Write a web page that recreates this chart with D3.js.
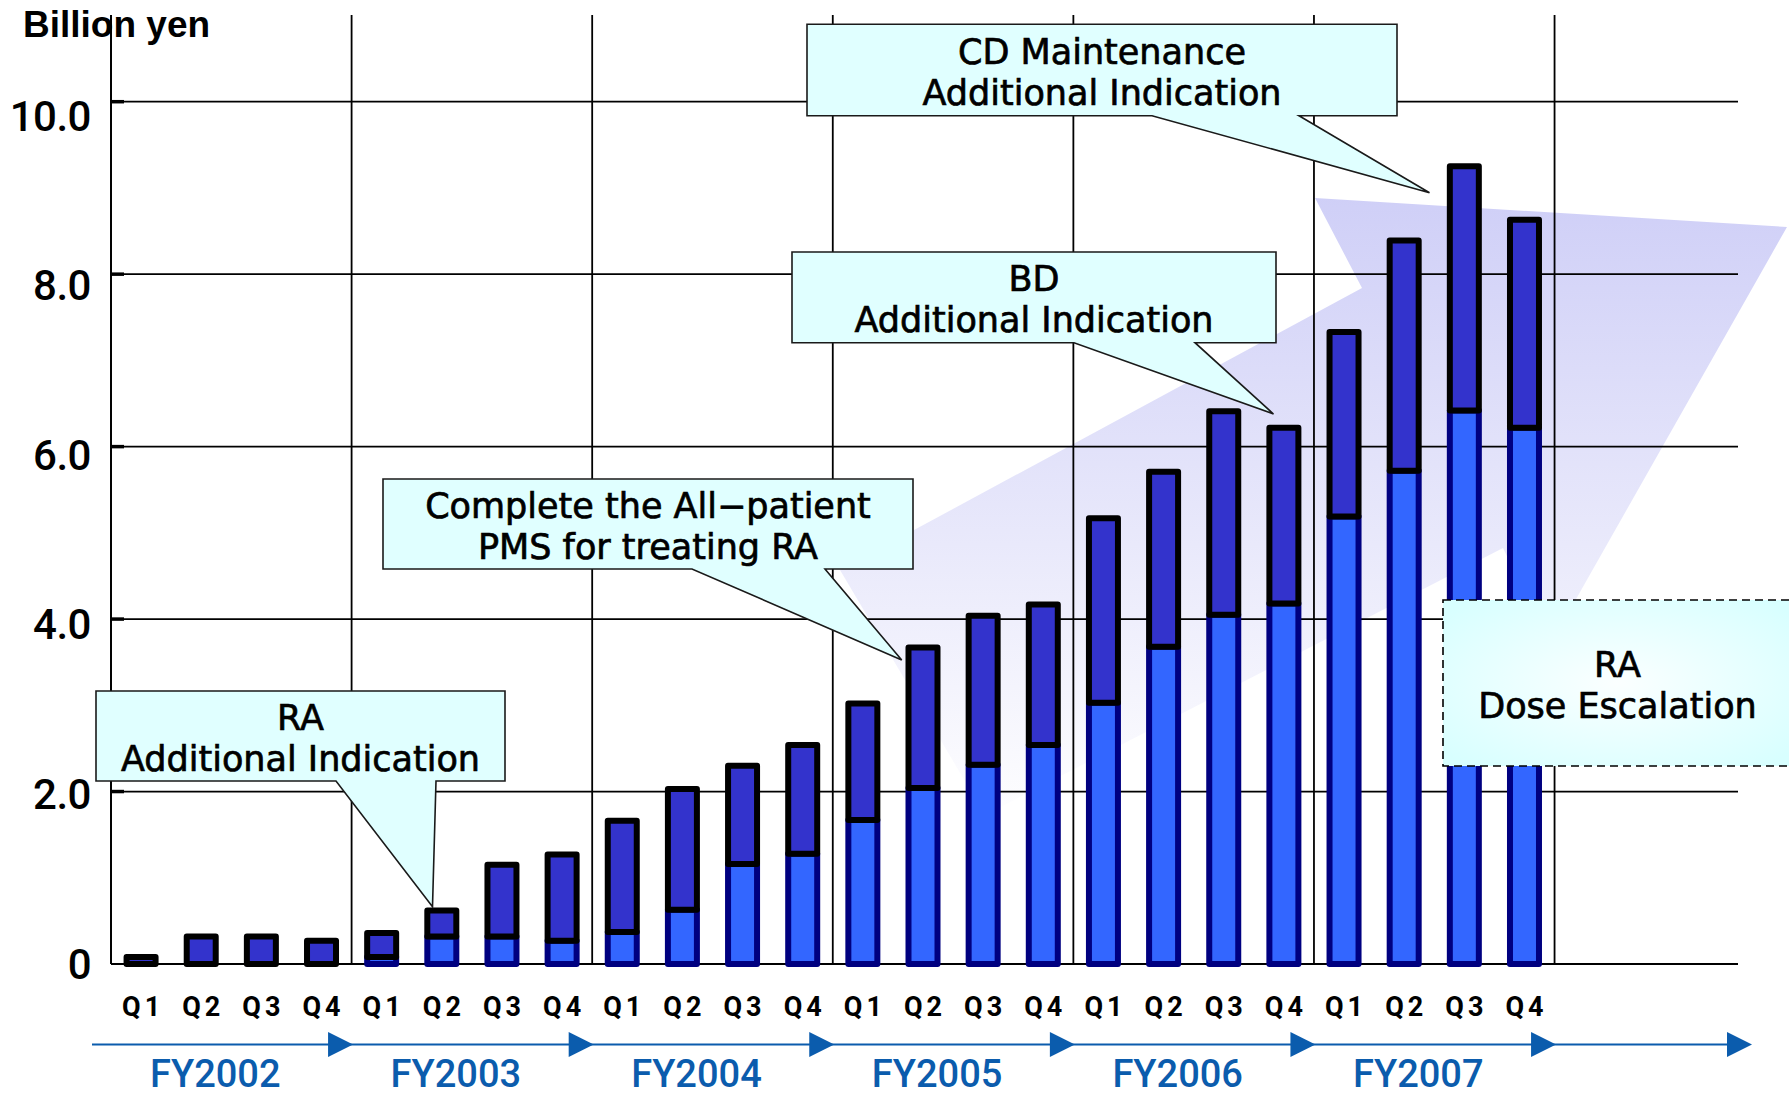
<!DOCTYPE html>
<html><head><meta charset="utf-8">
<script src="https://cdn.jsdelivr.net/npm/d3@7"></script>
<style>html,body{margin:0;padding:0;background:#fff;} svg{display:block;}</style>
</head><body>
<svg id="chart" width="1789" height="1098"></svg>
<script>
// ---------- data ----------
const fiscalYears = ["FY2002","FY2003","FY2004","FY2005","FY2006","FY2007"];
const quarters = ["Q1","Q2","Q3","Q4"];
// quarterly total (billion yen)
const totalValues = [0.08,0.32,0.32,0.27, 0.36,0.62,1.15,1.27, 1.66,2.03,2.30,2.54,
                     3.02,3.67,4.04,4.17, 5.17,5.71,6.41,6.22, 7.33,8.39,9.25,8.63];
// lower (light blue) part of each bar
const priorValues = [0,0,0,0, 0.08,0.32,0.32,0.27, 0.37,0.63,1.16,1.28,
                     1.67,2.04,2.31,2.54, 3.03,3.68,4.05,4.18, 5.19,5.72,6.42,6.22];
const yTickValues = [0,2,4,6,8,10];
const yTickLabels = ["0","2.0","4.0","6.0","8.0","10.0"];
const yUnit = "Billion yen";
const calloutTexts = [
  ["RA","Additional Indication"],
  ["Complete the All\u2212patient","PMS for treating RA"],
  ["BD","Additional Indication"],
  ["CD Maintenance","Additional Indication"],
  ["RA","Dose Escalation"]
];

// ---------- layout ----------
const svg = d3.select("#chart");
const left = 111, right = 1735, plotTop = 15, gridRight = 1738;
const quarterKeys = fiscalYears.flatMap(fy => quarters.map(q => fy + " " + q));
const slotKeys = quarterKeys.concat(["pad1","pad2","pad3"]);
const x = d3.scaleBand().domain(slotKeys).range([left, right]);
const bw = x.bandwidth();
const y = d3.scaleLinear().domain([0, 10]).range([964, 101.7]);

const defs = svg.append("defs");
const ag = defs.append("linearGradient").attr("id","arrowGrad")
  .attr("gradientUnits","userSpaceOnUse").attr("x1",0).attr("y1",195).attr("x2",0).attr("y2",830);
ag.append("stop").attr("offset",0).attr("stop-color","#cfcff7");
ag.append("stop").attr("offset",0.55).attr("stop-color","#e9e9fb");
ag.append("stop").attr("offset",1).attr("stop-color","#ffffff");
const rg = defs.append("radialGradient").attr("id","doseGrad").attr("cx","50%").attr("cy","50%").attr("r","65%");
rg.append("stop").attr("offset",0).attr("stop-color","#fbffff");
rg.append("stop").attr("offset",1).attr("stop-color","#d8ffff");

svg.append("rect").attr("width",1789).attr("height",1098).attr("fill","#fff");

// big translucent growth arrow
svg.append("polygon")
  .attr("points",[[840,570],[1362,288],[1315,198],[1787,227],[1550,645],[1503,548],[985,815]].map(p=>p.join(",")).join(" "))
  .attr("fill","url(#arrowGrad)");

// gridlines
const grid = svg.append("g").attr("stroke","#000").attr("stroke-width",1.8);
grid.selectAll("line.h").data(yTickValues).join("line").attr("class","h")
  .attr("x1",left).attr("x2",gridRight).attr("y1",d=>y(d)).attr("y2",d=>y(d));
const fyBounds = fiscalYears.map(fy => x(fy + " Q1")).concat([x(fiscalYears[fiscalYears.length-1]+" Q4") + bw]);
grid.selectAll("line.v").data(fyBounds).join("line").attr("class","v")
  .attr("x1",d=>d).attr("x2",d=>d).attr("y1",plotTop).attr("y2",y(0));
// small inward ticks
svg.append("g").attr("stroke","#000").attr("stroke-width",3.5)
  .selectAll("line").data(yTickValues.filter(v=>v>0)).join("line")
  .attr("x1",left).attr("x2",left+13).attr("y1",d=>y(d)).attr("y2",d=>y(d));

// bars
const barW = 29, sw = 6;
const rows = quarterKeys.map((k,i)=>({k,lo:priorValues[i],hi:totalValues[i]}));
const bars = svg.append("g").attr("stroke-linejoin","round");
bars.selectAll("rect.low").data(rows.filter(d=>d.lo>0))
  .join("rect").attr("class","low")
  .attr("x",d=>x(d.k)+bw/2-barW/2).attr("width",barW)
  .attr("y",d=>y(d.lo)).attr("height",d=>y(0)-y(d.lo))
  .attr("fill","#3366ff").attr("stroke","#000080").attr("stroke-width",sw);
bars.selectAll("rect.up").data(rows)
  .join("rect").attr("class","up")
  .attr("x",d=>x(d.k)+bw/2-barW/2).attr("width",barW)
  .attr("y",d=>y(d.hi)).attr("height",d=>y(d.lo)-y(d.hi))
  .attr("fill","#3333cc").attr("stroke","#000").attr("stroke-width",sw);

// y axis line
svg.append("line").attr("x1",left).attr("x2",left).attr("y1",plotTop).attr("y2",y(0))
  .attr("stroke","#000").attr("stroke-width",1.8);

// y tick labels
const yAxis = d3.axisLeft(y).tickValues(yTickValues)
  .tickFormat((d,i)=>yTickLabels[i]).tickSize(0).tickPadding(20);
const gy = svg.append("g").attr("transform",`translate(${left},0)`).call(yAxis);
gy.select(".domain").remove();
gy.selectAll("text").attr("dy",null).attr("y",d=>14+1.43*d)
  .attr("font-family","Roboto, sans-serif").attr("font-weight",500).attr("font-size",42)
  .attr("letter-spacing",-0.5).attr("fill","#000");

// quarter labels
const xAxis = d3.axisBottom(x).tickValues(quarterKeys).tickFormat(k=>k.split(" ")[1]).tickSize(0).tickPadding(0);
const gx = svg.append("g").attr("transform","translate(0,1016)").call(xAxis);
gx.select(".domain").remove();
gx.selectAll("text").attr("dy",null).attr("y",0).attr("dx",2)
  .attr("font-family","Roboto, sans-serif").attr("font-weight",700).attr("font-size",27)
  .attr("letter-spacing",4).attr("fill","#000");

// fiscal-year arrows
const blue = "#0b5cad";
svg.append("line").attr("x1",92).attr("x2",1730).attr("y1",1044.5).attr("y2",1044.5)
  .attr("stroke",blue).attr("stroke-width",2.2);
const tips = fyBounds.slice(1).map(b=>b+1.5).concat([1752]);
svg.append("g").selectAll("path").data(tips).join("path")
  .attr("d",t=>`M${t},1044.5 L${t-25},1032 L${t-25},1057 Z`).attr("fill",blue);
svg.append("g").selectAll("text").data(fiscalYears).join("text")
  .attr("x",fy=>x(fy+" Q3")-16).attr("y",1087).attr("text-anchor","middle")
  .attr("font-family","Roboto, sans-serif").attr("font-weight",500).attr("font-size",38)
  .attr("fill",blue).text(d=>d);

// unit label
svg.append("text").attr("x",23).attr("y",37).text(yUnit)
  .attr("font-family","'Liberation Sans', Arial, sans-serif").attr("font-weight",700).attr("font-size",37);

// callouts
const boxes = [
  {x0:96, x1:505, y0:691, y1:781, tl:336, tr:436, tip:[432.5,906.7]},
  {x0:383, x1:913, y0:479, y1:569, tl:692, tr:825, tip:[901.7,660]},
  {x0:792, x1:1276, y0:252, y1:342.7, tl:1074, tr:1195, tip:[1273.5,414]},
  {x0:807, x1:1397, y0:24.3, y1:115.7, tl:1152, tr:1299, tip:[1429.5,192.7]},
  {x0:1443, x1:1792, y0:600, y1:766, dashed:true}
];
const cg = svg.append("g");
boxes.forEach((b,i)=>{
  let d;
  if (b.tip) d = `M${b.x0},${b.y0} H${b.x1} V${b.y1} H${b.tr} L${b.tip[0]},${b.tip[1]} L${b.tl},${b.y1} H${b.x0} Z`;
  else d = `M${b.x0},${b.y0} H${b.x1} V${b.y1} H${b.x0} Z`;
  cg.append("path").attr("d",d)
    .attr("fill", b.dashed ? "url(#doseGrad)" : "#e0ffff")
    .attr("stroke", b.dashed ? "#000" : "#1a1a1a").attr("stroke-width", 1.6)
    .attr("stroke-dasharray", b.dashed ? "8,5" : null).attr("stroke-linejoin","miter");
  const cx = (b.x0 + b.x1)/2, mid = (b.y0 + b.y1)/2;
  const t = cg.append("text").attr("text-anchor","middle")
    .attr("font-family","'DejaVu Sans', sans-serif").attr("font-size",35).attr("fill","#000")
    .attr("stroke","#000").attr("stroke-width",0.7);
  calloutTexts[i].forEach((line,j)=>{
    t.append("tspan").attr("x",cx).attr("y", j===0 ? mid-6 : mid+35).text(line);
  });
});
</script>
</body></html>
